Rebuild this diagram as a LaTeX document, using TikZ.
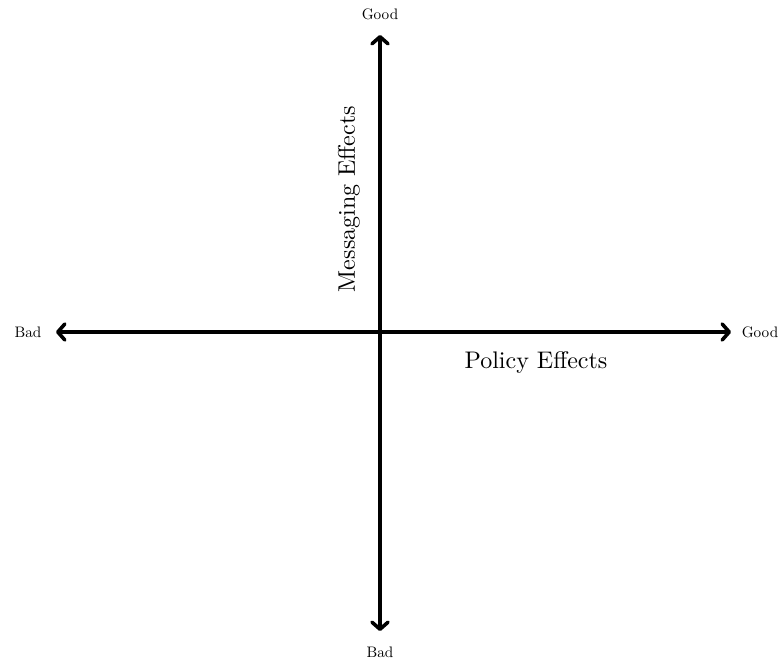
\documentclass[tikz,border=0pt]{standalone}
\usetikzlibrary{arrows.meta}
\begin{document}
\begin{tikzpicture}[x=1pt,y=-1pt,
  axis/.style={line width=3.6pt,line cap=round,
    {Straight Barb[length=7pt,width=16pt,line join=round,line cap=round]}-{Straight Barb[length=7pt,width=16pt,line join=round,line cap=round]}},
  endlabel/.style={inner sep=0pt},
  axislabel/.style={inner sep=0pt}]
  \useasboundingbox (0,0) rectangle (782,661);
  % axis end points
  \coordinate (west) at (56,332);
  \coordinate (east) at (731,332);
  \coordinate (north) at (380,35);
  \coordinate (south) at (380,631);
  % axes
  \draw[axis] (west) -- (east);
  \draw[axis] (south) -- (north);
  % end labels
  \node[endlabel] (badx) at (28,332) {\scalebox{1.52}{Bad}};
  \node[endlabel] (goodx) at (760,332) {\scalebox{1.52}{Good}};
  \node[endlabel] (goody) at (380,14) {\scalebox{1.52}{Good}};
  \node[endlabel] (bady) at (380,652) {\scalebox{1.52}{Bad}};
  % axis titles
  \node[axislabel] (policy) at (536,362) {\scalebox{2.4}{Policy Effects}};
  \node[axislabel,rotate=90] (messaging) at (349,199) {\scalebox{2.4}{Messaging Effects}};
\end{tikzpicture}
\end{document}
